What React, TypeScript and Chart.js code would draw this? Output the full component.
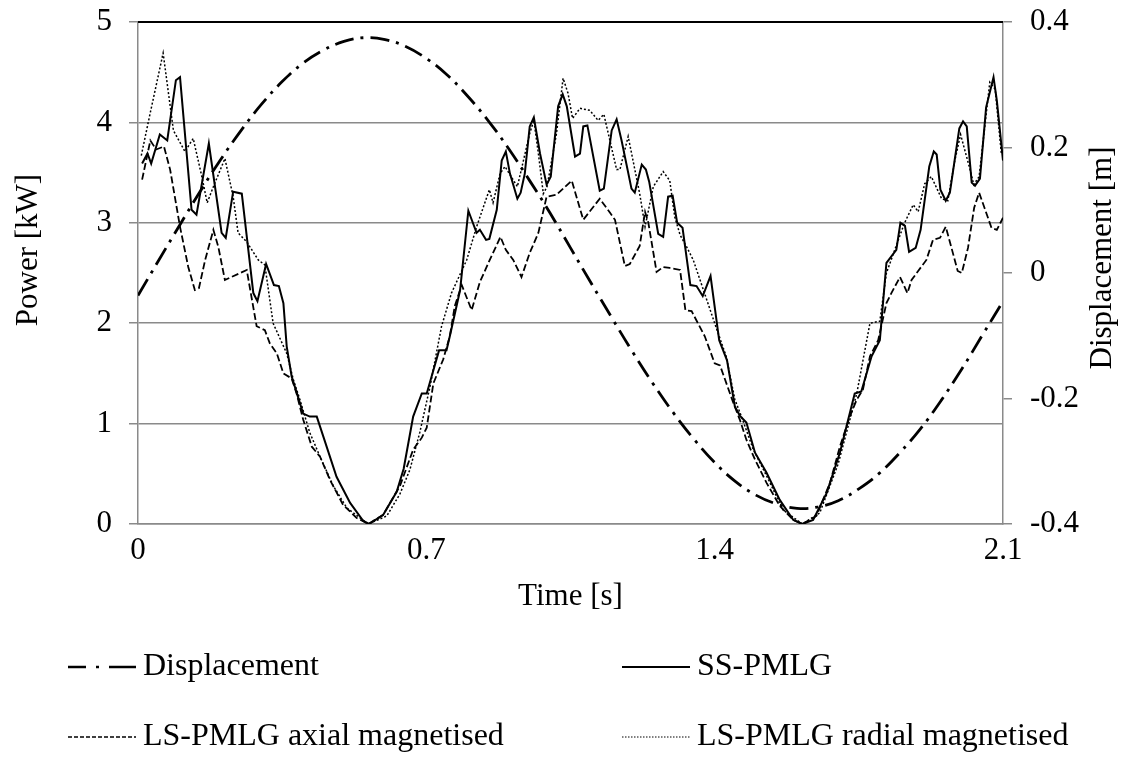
import { useEffect, useRef } from "react";
import { Chart, registerables } from "chart.js";
Chart.register(...registerables);

const FONT = '"Liberation Serif", "Times New Roman", serif';
const GRID = "#8a8a8a";
const FS = 31;
const LEG_FS = 32;

const xTicks = [0, 0.7, 1.4, 2.1];
const powerTicks = [0, 1, 2, 3, 4, 5];
const dispTicks = [-0.4, -0.2, 0, 0.2, 0.4];

const ssTime = [0.01, 0.023, 0.032, 0.053, 0.071, 0.092, 0.102, 0.13, 0.142, 0.172, 0.203, 0.213, 0.231, 0.252, 0.28, 0.29, 0.311, 0.33, 0.342, 0.353, 0.361, 0.373, 0.401, 0.417, 0.434, 0.45, 0.482, 0.515, 0.547, 0.561, 0.595, 0.628, 0.645, 0.668, 0.689, 0.701, 0.731, 0.749, 0.757, 0.782, 0.802, 0.822, 0.83, 0.845, 0.853, 0.871, 0.883, 0.893, 0.903, 0.921, 0.929, 0.939, 0.951, 0.961, 0.976, 0.992, 1.002, 1.02, 1.031, 1.041, 1.061, 1.073, 1.081, 1.091, 1.121, 1.131, 1.15, 1.162, 1.174, 1.198, 1.206, 1.223, 1.233, 1.241, 1.263, 1.275, 1.287, 1.298, 1.309, 1.322, 1.341, 1.356, 1.371, 1.39, 1.411, 1.43, 1.449, 1.461, 1.477, 1.498, 1.526, 1.558, 1.591, 1.613, 1.639, 1.672, 1.704, 1.74, 1.756, 1.781, 1.801, 1.817, 1.841, 1.851, 1.862, 1.872, 1.888, 1.9, 1.921, 1.932, 1.939, 1.948, 1.961, 1.971, 1.994, 2.003, 2.012, 2.024, 2.032, 2.044, 2.059, 2.077, 2.085, 2.1];
const ssPower = [3.59, 3.69, 3.59, 3.88, 3.82, 4.42, 4.45, 3.13, 3.08, 3.79, 2.9, 2.85, 3.31, 3.29, 2.3, 2.22, 2.59, 2.38, 2.37, 2.2, 1.77, 1.47, 1.1, 1.07, 1.07, 0.87, 0.47, 0.21, 0.03, 0.0, 0.09, 0.32, 0.55, 1.07, 1.3, 1.3, 1.73, 1.73, 1.87, 2.33, 3.12, 2.9, 2.93, 2.83, 2.84, 3.13, 3.62, 3.71, 3.49, 3.24, 3.3, 3.49, 3.96, 4.05, 3.69, 3.38, 3.46, 4.16, 4.28, 4.16, 3.66, 3.69, 3.96, 3.97, 3.32, 3.34, 3.92, 4.03, 3.82, 3.34, 3.3, 3.58, 3.53, 3.41, 2.89, 2.86, 3.26, 3.27, 3.0, 2.95, 2.38, 2.37, 2.27, 2.47, 1.83, 1.63, 1.17, 1.08, 1.01, 0.71, 0.51, 0.24, 0.04, 0.0, 0.04, 0.31, 0.71, 1.3, 1.32, 1.67, 1.83, 2.6, 2.73, 3.0, 2.97, 2.71, 2.75, 2.93, 3.56, 3.71, 3.68, 3.33, 3.22, 3.3, 3.94, 4.01, 3.96, 3.4, 3.37, 3.44, 4.15, 4.45, 4.22, 3.62];

const axialTime = [0.01, 0.03, 0.044, 0.063, 0.078, 0.102, 0.122, 0.138, 0.148, 0.163, 0.183, 0.195, 0.211, 0.264, 0.288, 0.308, 0.32, 0.337, 0.353, 0.373, 0.385, 0.401, 0.422, 0.442, 0.466, 0.498, 0.531, 0.559, 0.595, 0.636, 0.668, 0.689, 0.701, 0.717, 0.741, 0.757, 0.769, 0.786, 0.81, 0.83, 0.854, 0.88, 0.893, 0.911, 0.931, 0.951, 0.972, 0.992, 1.016, 1.053, 1.081, 1.121, 1.146, 1.158, 1.182, 1.194, 1.218, 1.231, 1.239, 1.259, 1.275, 1.291, 1.316, 1.329, 1.344, 1.376, 1.4, 1.413, 1.445, 1.461, 1.477, 1.498, 1.526, 1.558, 1.591, 1.613, 1.647, 1.68, 1.704, 1.728, 1.745, 1.76, 1.777, 1.797, 1.817, 1.829, 1.85, 1.868, 1.878, 1.894, 1.914, 1.93, 1.947, 1.961, 1.975, 1.99, 2.0, 2.015, 2.03, 2.042, 2.055, 2.072, 2.085, 2.1];
const axialPower = [3.43, 3.82, 3.73, 3.76, 3.53, 2.96, 2.56, 2.33, 2.35, 2.63, 2.93, 2.76, 2.43, 2.53, 1.97, 1.93, 1.8, 1.7, 1.5, 1.45, 1.3, 1.04, 0.77, 0.67, 0.44, 0.19, 0.06, 0.0, 0.09, 0.38, 0.74, 0.86, 0.96, 1.4, 1.64, 1.87, 2.17, 2.38, 2.13, 2.41, 2.63, 2.86, 2.73, 2.63, 2.46, 2.7, 2.9, 3.26, 3.28, 3.42, 3.03, 3.24, 3.1, 3.03, 2.57, 2.59, 2.77, 3.11, 3.0, 2.51, 2.56, 2.55, 2.53, 2.13, 2.12, 1.87, 1.6, 1.58, 1.21, 1.04, 0.84, 0.64, 0.41, 0.18, 0.04, 0.0, 0.08, 0.41, 0.77, 1.07, 1.24, 1.34, 1.67, 1.83, 2.2, 2.3, 2.46, 2.3, 2.43, 2.52, 2.63, 2.83, 2.85, 2.96, 2.75, 2.52, 2.5, 2.75, 3.15, 3.3, 3.15, 2.95, 2.93, 3.05];

const radialTime = [0.008, 0.03, 0.061, 0.086, 0.114, 0.134, 0.155, 0.168, 0.183, 0.211, 0.231, 0.243, 0.264, 0.292, 0.308, 0.328, 0.361, 0.377, 0.393, 0.417, 0.442, 0.474, 0.507, 0.559, 0.604, 0.636, 0.66, 0.684, 0.709, 0.737, 0.761, 0.798, 0.822, 0.853, 0.862, 0.879, 0.891, 0.921, 0.951, 0.961, 0.972, 0.984, 0.993, 1.016, 1.032, 1.044, 1.055, 1.073, 1.097, 1.117, 1.131, 1.162, 1.17, 1.19, 1.218, 1.231, 1.251, 1.275, 1.291, 1.303, 1.316, 1.332, 1.348, 1.4, 1.428, 1.449, 1.465, 1.494, 1.526, 1.566, 1.613, 1.655, 1.7, 1.745, 1.777, 1.801, 1.817, 1.86, 1.882, 1.894, 1.91, 1.926, 1.951, 1.966, 1.983, 1.997, 2.02, 2.029, 2.042, 2.068, 2.081, 2.096];
const radialPower = [3.67, 4.1, 4.69, 3.92, 3.71, 3.84, 3.46, 3.2, 3.36, 3.64, 3.26, 2.9, 2.81, 2.63, 2.58, 2.0, 1.7, 1.44, 1.24, 0.91, 0.67, 0.38, 0.16, 0.0, 0.08, 0.3, 0.54, 0.91, 1.37, 1.97, 2.3, 2.63, 2.96, 3.33, 3.2, 3.49, 3.56, 3.36, 3.89, 4.02, 3.69, 3.29, 3.36, 3.89, 4.44, 4.29, 4.04, 4.14, 4.12, 4.02, 4.08, 3.53, 3.53, 3.86, 3.29, 2.96, 3.36, 3.51, 3.42, 3.06, 2.88, 2.76, 2.63, 2.0, 1.67, 1.24, 1.07, 0.74, 0.48, 0.14, 0.0, 0.11, 0.6, 1.3, 2.0, 2.02, 2.5, 2.99, 3.18, 3.11, 3.39, 3.46, 3.24, 3.22, 3.62, 3.88, 3.53, 3.38, 3.46, 4.4, 4.33, 3.69];

const dispTime = [0, 0.05, 0.1, 0.15, 0.2, 0.25, 0.3, 0.35, 0.4, 0.45, 0.5, 0.55, 0.6, 0.65, 0.7, 0.75, 0.8, 0.85, 0.9, 0.95, 1.0, 1.05, 1.1, 1.15, 1.2, 1.25, 1.3, 1.35, 1.4, 1.45, 1.5, 1.55, 1.6, 1.65, 1.7, 1.75, 1.8, 1.85, 1.9, 1.95, 2.0, 2.05, 2.1];
const dispValue = [-0.036, 0.02, 0.075, 0.129, 0.18, 0.227, 0.269, 0.305, 0.334, 0.355, 0.369, 0.375, 0.372, 0.361, 0.342, 0.316, 0.282, 0.243, 0.198, 0.148, 0.096, 0.04, -0.016, -0.071, -0.125, -0.176, -0.223, -0.265, -0.302, -0.332, -0.354, -0.368, -0.375, -0.373, -0.363, -0.344, -0.319, -0.286, -0.248, -0.203, -0.153, -0.099, -0.045];

const legendLabels = ["Displacement", "SS-PMLG", "LS-PMLG axial magnetised", "LS-PMLG radial magnetised"];
const leftTitle = "Power [kW]";
const rightTitle = "Displacement [m]";

function pts(xs: number[], ys: number[]) {
  return xs.map((x, i) => ({ x, y: ys[i] }));
}

const overlay = {
  id: "overlay",
  afterDraw(chart: any) {
    const { ctx, chartArea } = chart;
    ctx.save();
    ctx.strokeStyle = "#000";
    ctx.lineWidth = 2;
    ctx.beginPath();
    ctx.moveTo(chartArea.left, chartArea.top);
    ctx.lineTo(chartArea.right, chartArea.top);
    ctx.stroke();
    ctx.restore();

    const vtitle = (text: string, x: number, y: number) => {
      ctx.save();
      ctx.fillStyle = "#000";
      ctx.font = `${FS}px ${FONT}`;
      ctx.translate(x, y);
      ctx.rotate(-Math.PI / 2);
      ctx.textAlign = "center";
      ctx.textBaseline = "middle";
      ctx.fillText(text, 0, 0);
      ctx.restore();
    };
    vtitle(leftTitle, 29, 250);
    vtitle(rightTitle, 1103, 258);

    ctx.save();
    ctx.strokeStyle = "#000";
    ctx.fillStyle = "#000";
    ctx.font = `${LEG_FS}px ${FONT}`;
    ctx.textAlign = "left";
    ctx.textBaseline = "middle";
    const r1 = 667, r2 = 737;
    const seg = (x1: number, x2: number, y: number, w: number, dash: number[]) => {
      ctx.lineWidth = w;
      ctx.setLineDash(dash);
      ctx.beginPath();
      ctx.moveTo(x1, y);
      ctx.lineTo(x2, y);
      ctx.stroke();
    };
    seg(68, 86, r1, 2.5, []);
    seg(96, 99, r1, 2.5, []);
    seg(109, 136, r1, 2.5, []);
    ctx.fillText(legendLabels[0], 143, r1);
    seg(622, 690, r1, 2, []);
    ctx.fillText(legendLabels[1], 697, r1);
    seg(68, 136, r2, 1.5, [4, 2]);
    ctx.fillText(legendLabels[2], 143, r2);
    seg(622, 690, r2, 1, [1.5, 1.5]);
    ctx.fillText(legendLabels[3], 697, r2);
    ctx.restore();
  },
};

const noPad = (s: any) => {
  s.paddingTop = 0;
  s.paddingBottom = 0;
  s.paddingLeft = 0;
  s.paddingRight = 0;
};

export default function App() {
  const ref = useRef<HTMLCanvasElement | null>(null);
  useEffect(() => {
    if (!ref.current) return;
    const font = { family: FONT, size: FS };
    const chart = new Chart(ref.current, {
      type: "line",
      data: {
        datasets: [
          { label: legendLabels[0], data: pts(dispTime, dispValue), yAxisID: "y1", borderColor: "#000", borderWidth: 2.8, borderDash: [19, 7, 3, 7], pointRadius: 0, tension: 0.4, fill: false },
          { label: legendLabels[1], data: pts(ssTime, ssPower), yAxisID: "y", borderColor: "#000", borderWidth: 2, pointRadius: 0, tension: 0, fill: false },
          { label: legendLabels[2], data: pts(axialTime, axialPower), yAxisID: "y", borderColor: "#000", borderWidth: 1.8, borderDash: [7, 3], pointRadius: 0, tension: 0, fill: false },
          { label: legendLabels[3], data: pts(radialTime, radialPower), yAxisID: "y", borderColor: "#000", borderWidth: 1.5, borderDash: [2, 2], pointRadius: 0, tension: 0, fill: false },
        ],
      },
      options: {
        animation: false,
        responsive: true,
        maintainAspectRatio: false,
        layout: { padding: { left: 0, right: 0, top: 22, bottom: 147 } },
        plugins: { legend: { display: false }, tooltip: { enabled: false } },
        scales: {
          x: {
            type: "linear", min: 0, max: 2.1,
            afterBuildTicks: (s: any) => { s.ticks = xTicks.map((v) => ({ value: v })); },
            afterFit: (s: any) => { s.height = 91; noPad(s); },
            grid: { display: false, drawTicks: false },
            border: { display: true, color: GRID, width: 1.5 },
            ticks: { color: "#000", font, padding: 8, maxRotation: 0, autoSkip: false, callback: (v: any) => String(v) },
            title: { display: true, text: "Time [s]", color: "#000", font, padding: { top: 0, bottom: 0 } },
          },
          y: {
            position: "left", min: 0, max: 5,
            afterBuildTicks: (s: any) => { s.ticks = powerTicks.map((v) => ({ value: v })); },
            afterFit: (s: any) => { s.width = 138; noPad(s); },
            grid: { color: GRID, lineWidth: 1.5, tickLength: 9, drawTicks: true },
            border: { display: true, color: GRID, width: 1.5 },
            ticks: { color: "#000", font, padding: 17, callback: (v: any) => String(v) },
          },
          y1: {
            position: "right", min: -0.4, max: 0.4,
            afterBuildTicks: (s: any) => { s.ticks = dispTicks.map((v) => ({ value: v })); },
            afterFit: (s: any) => { s.width = 118; noPad(s); },
            grid: { drawOnChartArea: false, color: GRID, lineWidth: 1.5, tickLength: 9, drawTicks: true },
            border: { display: true, color: GRID, width: 1.5 },
            ticks: { color: "#000", font, padding: 18, callback: (v: any) => String(v) },
          },
        },
      },
      plugins: [overlay],
    } as any);
    return () => chart.destroy();
  }, []);
  return (
    <div style={{ position: "absolute", left: 0, top: 0, width: 1121, height: 762, background: "#fff" }}>
      <canvas ref={ref} />
    </div>
  );
}
